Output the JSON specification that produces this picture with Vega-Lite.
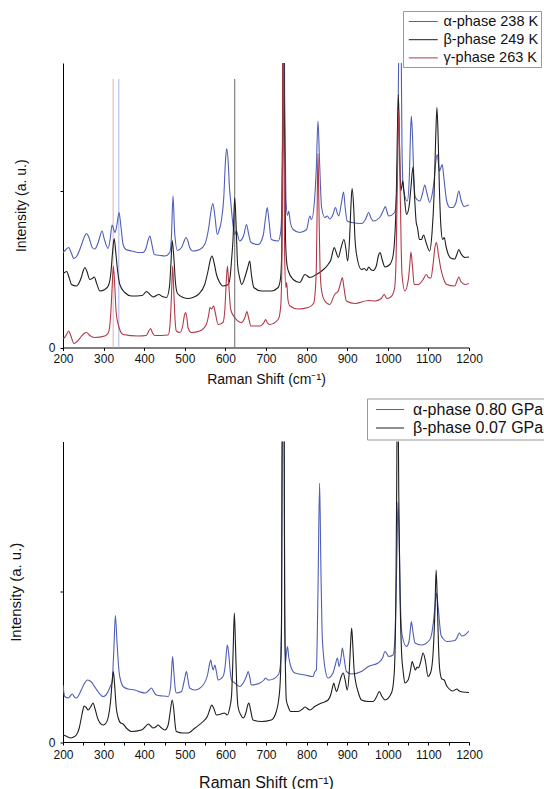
{
"$schema": "https://vega.github.io/schema/vega-lite/v6.json",
"padding": {"left": 8, "top": 10, "right": 0, "bottom": 0},
"background": "white",
"bounds": "flush",
"spacing": 93.5,
"config": {
  "font": "Liberation Sans",
  "view": {"stroke": null},
  "axis": {"grid": false, "domainColor": "#000", "tickColor": "#000", "labelColor": "#111", "titleColor": "#111", "titleFontWeight": "normal", "tickSize": 3, "domainWidth": 1, "tickWidth": 1, "labelFlush": false, "labelOverlap": false},
  "legend": {"title": null, "symbolType": "M-1,0H3", "symbolStrokeWidth": 1, "strokeColor": "#999", "fillColor": "#fff", "labelColor": "#111", "orient": "none"}
},
"datasets": {
  "names": [
    {"k": "a", "name": "α-phase 238 K"},
    {"k": "b", "name": "β-phase 249 K"},
    {"k": "g", "name": "γ-phase 263 K"},
    {"k": "A", "name": "α-phase 0.80 GPa"},
    {"k": "B", "name": "β-phase 0.07 GPa"}
  ],
  "refs": [
    {"k": "p", "x": 323.5, "y": 0, "y2": 268.5},
    {"k": "l", "x": 337.5, "y": 0, "y2": 268.5},
    {"k": "d", "x": 623, "y": 0, "y2": 268.5}
  ],
  "top": [
{"k":"a","x":200,"y":95},{"k":"a","x":205,"y":97},{"k":"a","x":214,"y":100},{"k":"a","x":220,"y":95},{"k":"a","x":227,"y":89},{"k":"a","x":235,"y":92},{"k":"a","x":245,"y":102},{"k":"a","x":252,"y":110},{"k":"a","x":258,"y":114},{"k":"a","x":264,"y":110},{"k":"a","x":272,"y":100},{"k":"a","x":278,"y":98.5},{"k":"a","x":285,"y":103},{"k":"a","x":291,"y":111},{"k":"a","x":296,"y":116.5},{"k":"a","x":302,"y":108},{"k":"a","x":311,"y":99},{"k":"a","x":316,"y":108},{"k":"a","x":321,"y":122.5},{"k":"a","x":325,"y":118},{"k":"a","x":328,"y":115},{"k":"a","x":333,"y":123},{"k":"a","x":338,"y":135},{"k":"a","x":343,"y":120},{"k":"a","x":348,"y":103},{"k":"a","x":355,"y":98},{"k":"a","x":369,"y":96.5},{"k":"a","x":385,"y":95},{"k":"a","x":397,"y":95},{"k":"a","x":405,"y":100},{"k":"a","x":410,"y":108},{"k":"a","x":414,"y":111.5},{"k":"a","x":418,"y":105},{"k":"a","x":425,"y":93},{"k":"a","x":440,"y":92},{"k":"a","x":451,"y":91.5},{"k":"a","x":463,"y":95},{"k":"a","x":467,"y":110},{"k":"a","x":471,"y":151.5},{"k":"a","x":475,"y":115},{"k":"a","x":482,"y":97},{"k":"a","x":492,"y":100},{"k":"a","x":498,"y":106},{"k":"a","x":503,"y":110},{"k":"a","x":508,"y":106},{"k":"a","x":512,"y":100},{"k":"a","x":520,"y":96.5},{"k":"a","x":537,"y":98},{"k":"a","x":549,"y":103},{"k":"a","x":559,"y":120},{"k":"a","x":564,"y":135},{"k":"a","x":569,"y":144},{"k":"a","x":574,"y":132},{"k":"a","x":580,"y":113},{"k":"a","x":585,"y":118},{"k":"a","x":590,"y":126.5},{"k":"a","x":596,"y":150},{"k":"a","x":600,"y":185},{"k":"a","x":603,"y":199},{"k":"a","x":607,"y":185},{"k":"a","x":610,"y":160},{"k":"a","x":613,"y":146.5},{"k":"a","x":618,"y":125},{"k":"a","x":623,"y":113},{"k":"a","x":627,"y":116.5},{"k":"a","x":635,"y":106.5},{"k":"a","x":645,"y":112},{"k":"a","x":652,"y":123},{"k":"a","x":657,"y":114},{"k":"a","x":663,"y":105},{"k":"a","x":681,"y":103},{"k":"a","x":693,"y":112},{"k":"a","x":699,"y":130},{"k":"a","x":703,"y":140},{"k":"a","x":707,"y":128},{"k":"a","x":713,"y":108},{"k":"a","x":730,"y":106.5},{"k":"a","x":736,"y":115},{"k":"a","x":739,"y":140},{"k":"a","x":742,"y":250},{"k":"a","x":744,"y":400},{"k":"a","x":746,"y":250},{"k":"a","x":749,"y":150},{"k":"a","x":753,"y":132},{"k":"a","x":756,"y":136.5},{"k":"a","x":760,"y":125},{"k":"a","x":767,"y":118},{"k":"a","x":783,"y":115},{"k":"a","x":800,"y":118},{"k":"a","x":808,"y":131.5},{"k":"a","x":812,"y":128},{"k":"a","x":820,"y":150},{"k":"a","x":824,"y":180},{"k":"a","x":828,"y":226.5},{"k":"a","x":832,"y":185},{"k":"a","x":837,"y":140},{"k":"a","x":845,"y":130},{"k":"a","x":851,"y":131.5},{"k":"a","x":857,"y":128.5},{"k":"a","x":865,"y":133},{"k":"a","x":871,"y":140},{"k":"a","x":876,"y":134},{"k":"a","x":879,"y":131.5},{"k":"a","x":886,"y":145},{"k":"a","x":891,"y":155.5},{"k":"a","x":895,"y":140},{"k":"a","x":900,"y":126.5},{"k":"a","x":911,"y":125},{"k":"a","x":935,"y":124},{"k":"a","x":945,"y":128},{"k":"a","x":953,"y":135},{"k":"a","x":958,"y":130},{"k":"a","x":964,"y":126.5},{"k":"a","x":980,"y":130},{"k":"a","x":990,"y":138},{"k":"a","x":994,"y":141},{"k":"a","x":998,"y":136},{"k":"a","x":1002,"y":131.5},{"k":"a","x":1017,"y":135},{"k":"a","x":1021,"y":150},{"k":"a","x":1024,"y":186.5},{"k":"a","x":1027,"y":300},{"k":"a","x":1030,"y":400},{"k":"a","x":1033,"y":300},{"k":"a","x":1035,"y":200},{"k":"a","x":1038,"y":160},{"k":"a","x":1048,"y":146.5},{"k":"a","x":1053,"y":170},{"k":"a","x":1056,"y":215},{"k":"a","x":1058,"y":231.5},{"k":"a","x":1061,"y":210},{"k":"a","x":1064,"y":170},{"k":"a","x":1068,"y":150},{"k":"a","x":1079,"y":146.5},{"k":"a","x":1086,"y":155},{"k":"a","x":1091,"y":162.5},{"k":"a","x":1096,"y":155},{"k":"a","x":1103,"y":145},{"k":"a","x":1110,"y":155},{"k":"a","x":1114,"y":166.5},{"k":"a","x":1118,"y":185},{"k":"a","x":1122,"y":193},{"k":"a","x":1127,"y":176.5},{"k":"a","x":1131,"y":180},{"k":"a","x":1134,"y":183},{"k":"a","x":1138,"y":170},{"k":"a","x":1145,"y":146.5},{"k":"a","x":1153,"y":140},{"k":"a","x":1160,"y":140},{"k":"a","x":1168,"y":145},{"k":"a","x":1175,"y":156.5},{"k":"a","x":1180,"y":148},{"k":"a","x":1188,"y":141},{"k":"a","x":1200,"y":142.5},
{"k":"b","x":200,"y":74},{"k":"b","x":204,"y":75},{"k":"b","x":209,"y":76},{"k":"b","x":215,"y":70},{"k":"b","x":221,"y":63},{"k":"b","x":233,"y":61.5},{"k":"b","x":240,"y":65},{"k":"b","x":245,"y":70},{"k":"b","x":250,"y":77},{"k":"b","x":254,"y":80},{"k":"b","x":259,"y":76},{"k":"b","x":266,"y":68},{"k":"b","x":272,"y":69},{"k":"b","x":277,"y":70.5},{"k":"b","x":283,"y":64},{"k":"b","x":291,"y":56.5},{"k":"b","x":303,"y":58},{"k":"b","x":312,"y":62},{"k":"b","x":318,"y":75},{"k":"b","x":322,"y":95},{"k":"b","x":326,"y":109},{"k":"b","x":330,"y":95},{"k":"b","x":335,"y":75},{"k":"b","x":340,"y":63},{"k":"b","x":352,"y":55},{"k":"b","x":369,"y":51.5},{"k":"b","x":395,"y":52},{"k":"b","x":406,"y":56},{"k":"b","x":414,"y":53},{"k":"b","x":422,"y":50.5},{"k":"b","x":436,"y":53},{"k":"b","x":445,"y":51},{"k":"b","x":455,"y":50},{"k":"b","x":462,"y":60},{"k":"b","x":466,"y":85},{"k":"b","x":469,"y":107},{"k":"b","x":473,"y":90},{"k":"b","x":477,"y":65},{"k":"b","x":482,"y":54},{"k":"b","x":496,"y":50},{"k":"b","x":508,"y":49},{"k":"b","x":520,"y":50},{"k":"b","x":533,"y":53},{"k":"b","x":549,"y":63},{"k":"b","x":558,"y":78},{"k":"b","x":563,"y":88},{"k":"b","x":567,"y":91.5},{"k":"b","x":572,"y":85},{"k":"b","x":578,"y":73},{"k":"b","x":586,"y":65},{"k":"b","x":594,"y":61.5},{"k":"b","x":607,"y":63},{"k":"b","x":612,"y":72},{"k":"b","x":615,"y":86.5},{"k":"b","x":619,"y":110},{"k":"b","x":623,"y":150},{"k":"b","x":627,"y":115},{"k":"b","x":630,"y":83},{"k":"b","x":635,"y":70},{"k":"b","x":640,"y":63},{"k":"b","x":650,"y":73},{"k":"b","x":655,"y":80},{"k":"b","x":660,"y":86.5},{"k":"b","x":664,"y":73},{"k":"b","x":670,"y":60},{"k":"b","x":689,"y":56.5},{"k":"b","x":713,"y":56.5},{"k":"b","x":730,"y":60},{"k":"b","x":736,"y":70},{"k":"b","x":739,"y":100},{"k":"b","x":741,"y":250},{"k":"b","x":743,"y":400},{"k":"b","x":745,"y":250},{"k":"b","x":748,"y":110},{"k":"b","x":751,"y":85},{"k":"b","x":755,"y":76.5},{"k":"b","x":767,"y":68},{"k":"b","x":783,"y":65},{"k":"b","x":796,"y":73},{"k":"b","x":808,"y":70},{"k":"b","x":824,"y":73},{"k":"b","x":837,"y":76.5},{"k":"b","x":853,"y":83},{"k":"b","x":860,"y":88},{"k":"b","x":864,"y":95},{"k":"b","x":868,"y":100},{"k":"b","x":873,"y":95},{"k":"b","x":878,"y":90},{"k":"b","x":885,"y":100},{"k":"b","x":892,"y":108},{"k":"b","x":897,"y":98},{"k":"b","x":901,"y":86.5},{"k":"b","x":906,"y":110},{"k":"b","x":909,"y":140},{"k":"b","x":912,"y":159},{"k":"b","x":916,"y":140},{"k":"b","x":919,"y":110},{"k":"b","x":923,"y":93},{"k":"b","x":935,"y":78},{"k":"b","x":942,"y":79},{"k":"b","x":948,"y":77},{"k":"b","x":953,"y":80.5},{"k":"b","x":958,"y":78},{"k":"b","x":964,"y":77},{"k":"b","x":972,"y":82},{"k":"b","x":977,"y":92},{"k":"b","x":981,"y":95},{"k":"b","x":986,"y":88},{"k":"b","x":993,"y":80.5},{"k":"b","x":1005,"y":83},{"k":"b","x":1013,"y":92},{"k":"b","x":1016,"y":103},{"k":"b","x":1021,"y":153},{"k":"b","x":1023,"y":200},{"k":"b","x":1026,"y":253},{"k":"b","x":1029,"y":200},{"k":"b","x":1032,"y":156.5},{"k":"b","x":1037,"y":166.5},{"k":"b","x":1041,"y":150},{"k":"b","x":1046,"y":133},{"k":"b","x":1052,"y":140},{"k":"b","x":1057,"y":160},{"k":"b","x":1062,"y":180.5},{"k":"b","x":1066,"y":150},{"k":"b","x":1070,"y":125},{"k":"b","x":1073,"y":120},{"k":"b","x":1078,"y":108},{"k":"b","x":1083,"y":108},{"k":"b","x":1088,"y":112.5},{"k":"b","x":1095,"y":104},{"k":"b","x":1103,"y":96.5},{"k":"b","x":1109,"y":115},{"k":"b","x":1114,"y":153},{"k":"b","x":1118,"y":210},{"k":"b","x":1121,"y":240},{"k":"b","x":1124,"y":210},{"k":"b","x":1127,"y":160},{"k":"b","x":1131,"y":120},{"k":"b","x":1135,"y":108},{"k":"b","x":1139,"y":110},{"k":"b","x":1144,"y":100},{"k":"b","x":1149,"y":93},{"k":"b","x":1157,"y":89},{"k":"b","x":1165,"y":88.5},{"k":"b","x":1170,"y":93},{"k":"b","x":1175,"y":98},{"k":"b","x":1180,"y":94},{"k":"b","x":1190,"y":90},{"k":"b","x":1200,"y":90.5},
{"k":"g","x":200,"y":9},{"k":"g","x":204,"y":10},{"k":"g","x":210,"y":14},{"k":"g","x":214,"y":16.5},{"k":"g","x":219,"y":12},{"k":"g","x":227,"y":4},{"k":"g","x":235,"y":6},{"k":"g","x":245,"y":11},{"k":"g","x":252,"y":14},{"k":"g","x":258,"y":15},{"k":"g","x":266,"y":12},{"k":"g","x":278,"y":10},{"k":"g","x":303,"y":11.5},{"k":"g","x":312,"y":15},{"k":"g","x":317,"y":30},{"k":"g","x":321,"y":60},{"k":"g","x":324,"y":81.5},{"k":"g","x":327,"y":65},{"k":"g","x":331,"y":35},{"k":"g","x":336,"y":23},{"k":"g","x":348,"y":13},{"k":"g","x":385,"y":11.5},{"k":"g","x":405,"y":12},{"k":"g","x":412,"y":17},{"k":"g","x":416,"y":19},{"k":"g","x":420,"y":15},{"k":"g","x":426,"y":12},{"k":"g","x":459,"y":12.5},{"k":"g","x":463,"y":20},{"k":"g","x":467,"y":50},{"k":"g","x":470,"y":81.5},{"k":"g","x":473,"y":55},{"k":"g","x":476,"y":28},{"k":"g","x":479,"y":16.5},{"k":"g","x":488,"y":15},{"k":"g","x":495,"y":22},{"k":"g","x":499,"y":32},{"k":"g","x":502,"y":35},{"k":"g","x":505,"y":30},{"k":"g","x":508,"y":20},{"k":"g","x":516,"y":15},{"k":"g","x":537,"y":16.5},{"k":"g","x":553,"y":23},{"k":"g","x":559,"y":33},{"k":"g","x":562,"y":40},{"k":"g","x":566,"y":38.5},{"k":"g","x":571,"y":41.5},{"k":"g","x":575,"y":35},{"k":"g","x":582,"y":23},{"k":"g","x":594,"y":25},{"k":"g","x":599,"y":40},{"k":"g","x":602,"y":65},{"k":"g","x":605,"y":81.5},{"k":"g","x":608,"y":65},{"k":"g","x":613,"y":38},{"k":"g","x":623,"y":30},{"k":"g","x":640,"y":25},{"k":"g","x":648,"y":30},{"k":"g","x":653,"y":36},{"k":"g","x":657,"y":30},{"k":"g","x":663,"y":21.5},{"k":"g","x":685,"y":21.5},{"k":"g","x":695,"y":25},{"k":"g","x":699,"y":28},{"k":"g","x":703,"y":25},{"k":"g","x":709,"y":23},{"k":"g","x":730,"y":28},{"k":"g","x":736,"y":40},{"k":"g","x":739,"y":80},{"k":"g","x":741,"y":200},{"k":"g","x":742,"y":400},{"k":"g","x":744,"y":200},{"k":"g","x":746,"y":90},{"k":"g","x":749,"y":60},{"k":"g","x":751,"y":65},{"k":"g","x":754,"y":48},{"k":"g","x":759,"y":41.5},{"k":"g","x":779,"y":38.5},{"k":"g","x":804,"y":40},{"k":"g","x":817,"y":44},{"k":"g","x":820,"y":50},{"k":"g","x":824,"y":80},{"k":"g","x":826,"y":140},{"k":"g","x":828,"y":194},{"k":"g","x":830,"y":150},{"k":"g","x":833,"y":80},{"k":"g","x":837,"y":56.5},{"k":"g","x":845,"y":46.5},{"k":"g","x":857,"y":43},{"k":"g","x":869,"y":53},{"k":"g","x":878,"y":56.5},{"k":"g","x":884,"y":65},{"k":"g","x":888,"y":70},{"k":"g","x":892,"y":60},{"k":"g","x":898,"y":46.5},{"k":"g","x":919,"y":44},{"k":"g","x":952,"y":47},{"k":"g","x":968,"y":46.5},{"k":"g","x":984,"y":49},{"k":"g","x":991,"y":53},{"k":"g","x":998,"y":49},{"k":"g","x":1005,"y":50},{"k":"g","x":1012,"y":53},{"k":"g","x":1017,"y":60},{"k":"g","x":1021,"y":100},{"k":"g","x":1024,"y":180},{"k":"g","x":1027,"y":238},{"k":"g","x":1030,"y":170},{"k":"g","x":1033,"y":100},{"k":"g","x":1035,"y":73},{"k":"g","x":1042,"y":56.5},{"k":"g","x":1050,"y":66.5},{"k":"g","x":1054,"y":82},{"k":"g","x":1057,"y":95.5},{"k":"g","x":1061,"y":80},{"k":"g","x":1065,"y":63},{"k":"g","x":1075,"y":63},{"k":"g","x":1087,"y":68},{"k":"g","x":1095,"y":73},{"k":"g","x":1100,"y":70},{"k":"g","x":1106,"y":69.5},{"k":"g","x":1112,"y":85},{"k":"g","x":1116,"y":100},{"k":"g","x":1120,"y":105},{"k":"g","x":1124,"y":95},{"k":"g","x":1131,"y":78},{"k":"g","x":1138,"y":68},{"k":"g","x":1145,"y":63},{"k":"g","x":1165,"y":61.5},{"k":"g","x":1170,"y":66},{"k":"g","x":1175,"y":70.5},{"k":"g","x":1180,"y":66},{"k":"g","x":1190,"y":63},{"k":"g","x":1200,"y":64}
  ],
  "bot": [
{"k":"A","x":200,"y":57},{"k":"A","x":202,"y":50},{"k":"A","x":204,"y":45.5},{"k":"A","x":213,"y":44},{"k":"A","x":218,"y":46},{"k":"A","x":223,"y":48},{"k":"A","x":228,"y":45},{"k":"A","x":233,"y":44},{"k":"A","x":245,"y":52},{"k":"A","x":252,"y":58},{"k":"A","x":260,"y":62},{"k":"A","x":270,"y":60},{"k":"A","x":280,"y":54},{"k":"A","x":287,"y":50},{"k":"A","x":299,"y":45.5},{"k":"A","x":306,"y":47},{"k":"A","x":311,"y":50.5},{"k":"A","x":317,"y":56},{"k":"A","x":321,"y":60.5},{"k":"A","x":325,"y":90},{"k":"A","x":329,"y":126.5},{"k":"A","x":333,"y":100},{"k":"A","x":338,"y":70.5},{"k":"A","x":343,"y":60},{"k":"A","x":348,"y":55.5},{"k":"A","x":360,"y":53},{"k":"A","x":377,"y":52},{"k":"A","x":390,"y":50},{"k":"A","x":402,"y":49},{"k":"A","x":410,"y":51},{"k":"A","x":418,"y":54},{"k":"A","x":424,"y":50},{"k":"A","x":430,"y":47},{"k":"A","x":445,"y":46},{"k":"A","x":459,"y":45.5},{"k":"A","x":465,"y":55},{"k":"A","x":468,"y":75},{"k":"A","x":470,"y":85.5},{"k":"A","x":473,"y":70},{"k":"A","x":476,"y":55},{"k":"A","x":479,"y":49},{"k":"A","x":492,"y":50.5},{"k":"A","x":499,"y":62},{"k":"A","x":504,"y":70.5},{"k":"A","x":508,"y":62},{"k":"A","x":512,"y":54},{"k":"A","x":525,"y":52},{"k":"A","x":545,"y":57},{"k":"A","x":557,"y":69},{"k":"A","x":561,"y":78},{"k":"A","x":564,"y":82},{"k":"A","x":567,"y":76},{"k":"A","x":570,"y":72},{"k":"A","x":574,"y":77},{"k":"A","x":578,"y":70},{"k":"A","x":582,"y":62},{"k":"A","x":594,"y":65.5},{"k":"A","x":600,"y":78},{"k":"A","x":603,"y":92},{"k":"A","x":605,"y":97},{"k":"A","x":609,"y":85},{"k":"A","x":612,"y":70},{"k":"A","x":615,"y":62},{"k":"A","x":623,"y":59},{"k":"A","x":635,"y":55.5},{"k":"A","x":646,"y":60.5},{"k":"A","x":652,"y":66},{"k":"A","x":656,"y":70.5},{"k":"A","x":660,"y":65},{"k":"A","x":664,"y":57},{"k":"A","x":685,"y":59},{"k":"A","x":695,"y":62},{"k":"A","x":699,"y":64},{"k":"A","x":705,"y":62},{"k":"A","x":709,"y":62},{"k":"A","x":730,"y":67},{"k":"A","x":735,"y":75},{"k":"A","x":738,"y":110},{"k":"A","x":741,"y":400},{"k":"A","x":744,"y":400},{"k":"A","x":746,"y":150},{"k":"A","x":748,"y":79},{"k":"A","x":750,"y":88},{"k":"A","x":753,"y":95.5},{"k":"A","x":756,"y":85},{"k":"A","x":761,"y":75.5},{"k":"A","x":771,"y":69},{"k":"A","x":796,"y":67},{"k":"A","x":816,"y":65.5},{"k":"A","x":820,"y":70},{"k":"A","x":824,"y":72},{"k":"A","x":828,"y":150},{"k":"A","x":832,"y":259},{"k":"A","x":835,"y":180},{"k":"A","x":838,"y":112},{"k":"A","x":842,"y":85},{"k":"A","x":846,"y":72},{"k":"A","x":853,"y":64},{"k":"A","x":865,"y":69},{"k":"A","x":870,"y":76},{"k":"A","x":876,"y":84},{"k":"A","x":880,"y":75.5},{"k":"A","x":885,"y":85},{"k":"A","x":888,"y":94},{"k":"A","x":892,"y":85},{"k":"A","x":898,"y":70.5},{"k":"A","x":911,"y":68},{"k":"A","x":935,"y":70.5},{"k":"A","x":952,"y":75.5},{"k":"A","x":976,"y":79},{"k":"A","x":987,"y":84},{"k":"A","x":993,"y":90.5},{"k":"A","x":998,"y":88},{"k":"A","x":1002,"y":85.5},{"k":"A","x":1013,"y":87},{"k":"A","x":1017,"y":100},{"k":"A","x":1020,"y":139},{"k":"A","x":1023,"y":200},{"k":"A","x":1025,"y":240},{"k":"A","x":1028,"y":200},{"k":"A","x":1031,"y":140},{"k":"A","x":1035,"y":107.5},{"k":"A","x":1046,"y":95.5},{"k":"A","x":1052,"y":100},{"k":"A","x":1055,"y":110},{"k":"A","x":1058,"y":120.5},{"k":"A","x":1062,"y":110},{"k":"A","x":1067,"y":99},{"k":"A","x":1083,"y":97},{"k":"A","x":1103,"y":102},{"k":"A","x":1108,"y":108},{"k":"A","x":1112,"y":119},{"k":"A","x":1116,"y":135},{"k":"A","x":1120,"y":149},{"k":"A","x":1124,"y":135},{"k":"A","x":1131,"y":107},{"k":"A","x":1137,"y":103},{"k":"A","x":1145,"y":100.5},{"k":"A","x":1165,"y":101.5},{"k":"A","x":1170,"y":104},{"k":"A","x":1176,"y":109},{"k":"A","x":1182,"y":106},{"k":"A","x":1190,"y":107},{"k":"A","x":1200,"y":111},
{"k":"B","x":200,"y":7},{"k":"B","x":204,"y":6.5},{"k":"B","x":212,"y":5},{"k":"B","x":219,"y":4},{"k":"B","x":226,"y":5},{"k":"B","x":233,"y":7},{"k":"B","x":240,"y":14},{"k":"B","x":245,"y":24},{"k":"B","x":249,"y":32},{"k":"B","x":252,"y":36},{"k":"B","x":256,"y":35},{"k":"B","x":262,"y":32},{"k":"B","x":268,"y":35},{"k":"B","x":274,"y":39},{"k":"B","x":279,"y":33},{"k":"B","x":287,"y":22},{"k":"B","x":299,"y":17},{"k":"B","x":306,"y":19},{"k":"B","x":311,"y":24},{"k":"B","x":317,"y":40},{"k":"B","x":321,"y":60},{"k":"B","x":324,"y":70.5},{"k":"B","x":327,"y":58},{"k":"B","x":331,"y":35},{"k":"B","x":336,"y":24},{"k":"B","x":342,"y":19},{"k":"B","x":348,"y":18},{"k":"B","x":356,"y":14},{"k":"B","x":369,"y":10.5},{"k":"B","x":393,"y":12},{"k":"B","x":402,"y":15},{"k":"B","x":410,"y":18},{"k":"B","x":416,"y":16},{"k":"B","x":422,"y":14},{"k":"B","x":428,"y":15},{"k":"B","x":434,"y":17},{"k":"B","x":440,"y":15},{"k":"B","x":451,"y":12},{"k":"B","x":459,"y":17},{"k":"B","x":464,"y":30},{"k":"B","x":469,"y":42},{"k":"B","x":473,"y":32},{"k":"B","x":476,"y":18},{"k":"B","x":479,"y":10.5},{"k":"B","x":495,"y":9},{"k":"B","x":508,"y":9},{"k":"B","x":525,"y":14},{"k":"B","x":545,"y":20.5},{"k":"B","x":556,"y":26},{"k":"B","x":562,"y":33},{"k":"B","x":566,"y":37},{"k":"B","x":571,"y":34},{"k":"B","x":578,"y":27},{"k":"B","x":590,"y":28},{"k":"B","x":597,"y":29},{"k":"B","x":605,"y":27},{"k":"B","x":610,"y":33},{"k":"B","x":615,"y":45.5},{"k":"B","x":619,"y":90},{"k":"B","x":622,"y":129},{"k":"B","x":625,"y":95},{"k":"B","x":628,"y":55},{"k":"B","x":631,"y":35.5},{"k":"B","x":638,"y":27},{"k":"B","x":644,"y":24},{"k":"B","x":651,"y":30},{"k":"B","x":655,"y":37},{"k":"B","x":658,"y":39},{"k":"B","x":662,"y":32},{"k":"B","x":668,"y":22},{"k":"B","x":689,"y":20.5},{"k":"B","x":713,"y":22},{"k":"B","x":725,"y":30},{"k":"B","x":730,"y":39},{"k":"B","x":735,"y":60},{"k":"B","x":738,"y":110},{"k":"B","x":741,"y":400},{"k":"B","x":744,"y":400},{"k":"B","x":746,"y":130},{"k":"B","x":748,"y":70},{"k":"B","x":750,"y":42},{"k":"B","x":755,"y":35},{"k":"B","x":761,"y":30.5},{"k":"B","x":779,"y":30.5},{"k":"B","x":790,"y":33},{"k":"B","x":796,"y":35},{"k":"B","x":808,"y":32},{"k":"B","x":820,"y":35.5},{"k":"B","x":837,"y":39},{"k":"B","x":853,"y":42},{"k":"B","x":860,"y":48},{"k":"B","x":864,"y":55},{"k":"B","x":867,"y":59},{"k":"B","x":871,"y":53},{"k":"B","x":874,"y":50.5},{"k":"B","x":880,"y":58},{"k":"B","x":885,"y":65},{"k":"B","x":890,"y":69},{"k":"B","x":895,"y":62},{"k":"B","x":900,"y":52},{"k":"B","x":905,"y":70},{"k":"B","x":908,"y":95},{"k":"B","x":911,"y":114},{"k":"B","x":914,"y":95},{"k":"B","x":917,"y":72},{"k":"B","x":920,"y":62},{"k":"B","x":927,"y":50},{"k":"B","x":935,"y":42},{"k":"B","x":952,"y":40.5},{"k":"B","x":964,"y":40.5},{"k":"B","x":972,"y":45},{"k":"B","x":979,"y":50.5},{"k":"B","x":985,"y":46},{"k":"B","x":993,"y":42},{"k":"B","x":1009,"y":49},{"k":"B","x":1014,"y":60},{"k":"B","x":1017,"y":79},{"k":"B","x":1020,"y":150},{"k":"B","x":1022,"y":260},{"k":"B","x":1024,"y":400},{"k":"B","x":1027,"y":250},{"k":"B","x":1030,"y":150},{"k":"B","x":1034,"y":89},{"k":"B","x":1038,"y":70},{"k":"B","x":1042,"y":59},{"k":"B","x":1050,"y":62},{"k":"B","x":1056,"y":72},{"k":"B","x":1060,"y":80.5},{"k":"B","x":1064,"y":76},{"k":"B","x":1068,"y":72},{"k":"B","x":1072,"y":75},{"k":"B","x":1075,"y":74},{"k":"B","x":1081,"y":80},{"k":"B","x":1087,"y":89},{"k":"B","x":1093,"y":80},{"k":"B","x":1099,"y":65.5},{"k":"B","x":1106,"y":70},{"k":"B","x":1112,"y":92},{"k":"B","x":1116,"y":130},{"k":"B","x":1119,"y":172},{"k":"B","x":1122,"y":140},{"k":"B","x":1125,"y":95},{"k":"B","x":1128,"y":72},{"k":"B","x":1133,"y":63},{"k":"B","x":1139,"y":62},{"k":"B","x":1144,"y":57},{"k":"B","x":1149,"y":54},{"k":"B","x":1160,"y":51},{"k":"B","x":1165,"y":52},{"k":"B","x":1170,"y":53},{"k":"B","x":1176,"y":51},{"k":"B","x":1185,"y":50},{"k":"B","x":1200,"y":49.5}
  ]
},
"vconcat": [
  {
    "width": 406, "height": 284.5,
    "layer": [
      {
        "data": {"name": "refs"},
        "mark": {"type": "rule", "strokeWidth": 1},
        "encoding": {
          "x": {"field": "x", "type": "quantitative", "scale": {"domain": [200, 1200], "nice": false}},
          "y": {"field": "y", "type": "quantitative", "scale": {"domain": [0, 284.5], "nice": false}},
          "y2": {"field": "y2"},
          "stroke": {"field": "k", "type": "nominal", "scale": {"domain": ["p", "l", "d"], "range": ["#e2aebd", "#aab2e6", "#6a6a6a"]}, "legend": null}
        }
      },
      {
        "data": {"name": "top"},
        "transform": [{"lookup": "k", "from": {"data": {"name": "names"}, "key": "k", "fields": ["name"]}}],
        "mark": {"type": "line", "strokeWidth": 1.1, "clip": true, "interpolate": "monotone"},
        "encoding": {
          "x": {"field": "x", "type": "quantitative", "scale": {"domain": [200, 1200], "nice": false},
            "axis": {"values": [200,250,300,350,400,450,500,550,600,650,700,750,800,850,900,950,1000,1050,1100,1150,1200], "format": "d", "labelExpr": "datum.value % 100 === 0 ? datum.label : ''", "title": "Raman Shift (cm⁻¹)", "labelFontSize": 12, "titleFontSize": 14, "labelPadding": 3, "titlePadding": 8}},
          "y": {"field": "y", "type": "quantitative", "scale": {"domain": [0, 284.5], "nice": false},
            "axis": {"values": [0, 156.5], "labelExpr": "datum.value === 0 ? '0' : ''", "title": "Intensity (a. u.)", "labelFontSize": 12, "titleFontSize": 14, "labelPadding": 5, "titleX": -35}},
          "color": {"field": "name", "type": "nominal", "sort": null,
            "scale": {"domain": ["α-phase 238 K", "β-phase 249 K", "γ-phase 263 K"], "range": ["#4f5fb5", "#1e1e1e", "#b03a48"]},
            "legend": {"legendX": 340, "legendY": -52, "labelFontSize": 14.5, "symbolSize": 210, "symbolOffset": 2.5, "labelOffset": 19.5, "padding": 2.5, "rowPadding": 3.2}}
        }
      }
    ]
  },
  {
    "width": 406, "height": 300.5,
    "data": {"name": "bot"},
    "transform": [{"lookup": "k", "from": {"data": {"name": "names"}, "key": "k", "fields": ["name"]}}],
    "mark": {"type": "line", "strokeWidth": 1.1, "clip": true, "interpolate": "monotone"},
    "encoding": {
      "x": {"field": "x", "type": "quantitative", "scale": {"domain": [200, 1200], "nice": false},
        "axis": {"values": [200,250,300,350,400,450,500,550,600,650,700,750,800,850,900,950,1000,1050,1100,1150,1200], "format": "d", "labelExpr": "datum.value % 100 === 0 ? datum.label : ''", "title": "Raman Shift (cm⁻¹)", "labelFontSize": 12, "titleFontSize": 16, "labelPadding": 4, "titlePadding": 14}},
      "y": {"field": "y", "type": "quantitative", "scale": {"domain": [0, 300.5], "nice": false},
        "axis": {"values": [0, 151], "labelExpr": "datum.value === 0 ? '0' : ''", "title": "Intensity (a. u.)", "labelFontSize": 12, "titleFontSize": 15, "labelPadding": 5, "titleX": -40}},
      "color": {"field": "name", "type": "nominal",
        "scale": {"domain": ["α-phase 0.80 GPa", "β-phase 0.07 GPa"], "range": ["#4f5fb5", "#1e1e1e"]},
        "legend": {"legendX": 304, "legendY": -43, "labelFontSize": 16, "symbolSize": 196, "symbolOffset": 5, "labelOffset": 22, "padding": 3, "rowPadding": 2.5}}
    }
  }
],
"resolve": {"scale": {"color": "independent", "stroke": "independent", "x": "independent", "y": "independent"}}
}
